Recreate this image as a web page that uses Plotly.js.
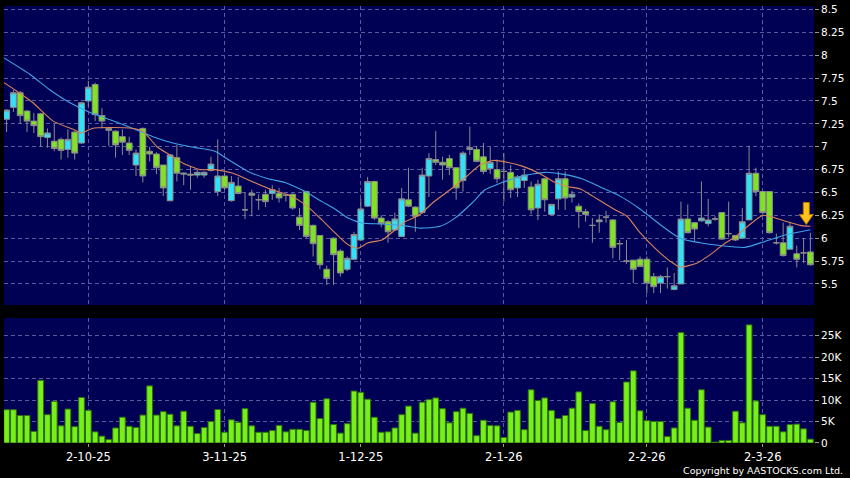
<!DOCTYPE html>
<html><head><meta charset="utf-8">
<script src="https://cdn.plot.ly/plotly-3.0.1.min.js"></script>
<style>html,body{margin:0;padding:0;background:#000;}#chart{width:850px;height:478px;}</style>
</head><body><div id="chart"></div>
<script>
const opens = [7.30,7.43,7.59,7.39,7.28,7.36,7.10,7.06,7.08,6.97, 7.16,7.04,7.50,7.68,7.34,7.20,7.17,7.11,7.04,6.80, 7.20,6.95,6.92,6.80,6.41,6.88,6.70,6.70,6.69,6.69, 6.74,6.51,6.68,6.41,6.57,6.31,6.49,6.42,6.48,6.49, 6.49,6.47,6.48,6.23,6.51,6.14,6.03,5.66,6.00,5.86, 5.66,5.77,5.98,6.35,6.62,6.22,6.18,6.09,6.02,6.42, 6.34,6.28,6.68,6.86,6.83,6.87,6.77,6.63,6.97,6.97, 6.89,6.76,6.75,6.73,6.72,6.55,6.63,6.56,6.33,6.65, 6.26,6.43,6.65,6.45,6.35,6.29,6.14,6.18,6.23,6.20, 5.94,5.75,5.76,5.77,5.77,5.58,5.51,5.58,5.44,5.50, 6.21,6.17,6.19,6.16,6.21,6.28,6.05,6.03,6.00,6.20, 6.71,6.51,6.51,5.95,5.95,5.88,5.83,5.84,5.85];
const highs = [7.41,7.62,7.61,7.40,7.37,7.37,7.20,7.25,7.10,7.19, 7.17,7.49,7.72,7.70,7.42,7.21,7.18,7.19,7.11,6.97, 7.21,7.00,6.94,6.80,6.92,7.02,6.72,6.78,6.75,6.73, 6.89,7.08,6.72,6.68,6.67,6.50,6.53,6.48,6.53,6.58, 6.55,6.48,6.49,6.33,6.52,6.15,6.03,5.70,6.01,5.88, 5.80,6.07,6.43,6.67,6.63,6.25,6.20,6.28,6.55,6.77, 6.35,6.77,6.93,7.17,6.89,6.91,6.78,6.95,7.22,7.01, 7.04,7.00,6.86,6.93,6.80,6.69,6.76,6.62,6.64,6.66, 6.37,6.73,6.73,6.52,6.38,6.32,6.22,6.26,6.30,6.21, 5.98,5.98,5.76,5.80,5.80,5.62,5.60,5.68,5.62,6.40, 6.37,6.17,6.62,6.43,6.24,6.28,6.40,6.03,6.33,7.01, 6.77,6.51,6.51,6.05,6.17,6.18,5.92,6.00,6.06];
const lows = [7.16,7.38,7.25,7.16,7.15,7.00,6.99,6.95,6.86,6.88, 6.86,7.03,7.44,7.28,7.20,7.01,6.88,6.91,6.91,6.68, 6.61,6.84,6.70,6.46,6.40,6.62,6.58,6.53,6.66,6.66, 6.73,6.46,6.53,6.40,6.48,6.21,6.24,6.31,6.34,6.42, 6.39,6.40,6.31,6.09,6.00,5.80,5.66,5.49,5.49,5.58, 5.64,5.76,5.97,6.34,6.20,6.12,5.95,6.08,6.01,6.34, 6.07,6.27,6.45,6.80,6.64,6.69,6.42,6.51,6.91,6.83, 6.70,6.70,6.60,6.40,6.44,6.45,6.55,6.26,6.20,6.29, 6.25,6.31,6.31,6.39,6.11,6.18,5.95,6.06,6.17,5.78, 5.76,5.72,5.51,5.69,5.40,5.40,5.40,5.45,5.43,5.50, 6.06,5.97,6.18,6.13,6.19,5.98,6.01,5.97,5.99,6.20, 6.46,6.26,6.05,5.93,5.80,5.88,5.68,5.73,5.70];
const closes = [7.40,7.59,7.34,7.28,7.23,7.11,7.15,6.98,6.96,7.08, 6.93,7.48,7.65,7.35,7.28,7.18,7.02,7.05,6.96,6.93, 6.68,6.92,6.77,6.55,6.91,6.71,6.71,6.69,6.72,6.72, 6.81,6.68,6.55,6.61,6.49,6.31,6.47,6.42,6.40,6.53, 6.44,6.47,6.33,6.14,6.02,5.94,5.71,5.56,5.82,5.62, 5.78,6.04,6.32,6.62,6.22,6.16,6.07,6.21,6.43,6.35, 6.24,6.69,6.87,6.83,6.80,6.77,6.55,6.93,6.99,6.84, 6.73,6.83,6.65,6.73,6.53,6.67,6.69,6.31,6.59,6.42, 6.37,6.65,6.44,6.48,6.29,6.26,6.14,6.20,6.23,5.90, 5.94,5.75,5.66,5.69,5.51,5.47,5.58,5.58,5.48,6.21, 6.06,6.10,6.22,6.20,6.21,5.99,6.05,5.98,6.18,6.71, 6.51,6.28,6.06,5.95,5.81,6.13,5.77,5.84,5.71];
const volumesK = [7.75,7.75,6.4,6.4,2.7,14.6,6.6,9.7,4.0,7.9, 3.8,10.6,7.6,2.6,1.6,0.8,3.5,6.0,3.9,3.6, 6.5,13.3,6.5,7.3,6.7,4.0,7.4,3.9,2.2,3.6, 5.0,7.8,2.5,5.4,4.8,8.0,4.0,2.5,2.5,2.9, 4.1,2.6,3.2,3.2, 2.9,9.5,5.7,10.3,4.3,2.3, 4.5,12.1,11.8,10.2,6.0,2.5,2.6,3.5,6.6,8.6, 2.3,9.5,10.1,10.5,8.0,4.7,7.3,8.1,6.9,1.7, 5.3,4.1,4.0,1.3,7.2,7.6,3.1,12.4,9.9,10.5, 7.6,5.7,6.4,8.1,11.9,2.9,9.2, 3.9,3.1,9.6, 4.8,14.2,16.8,7.5,5.2,5.0,5.0,1.5,3.5,25.7, 8.1,5.3,12.4,3.7,0.2,0.6,0.6,7.4,4.7,27.5, 9.8,6.6,3.9,3.9,2.6,4.3,4.4,3.3,0.9];
const maShortX = [-0.38,1.24,3.88,6.82,9.75,11.07,12.54,15.19,18.56,20.03,22.08,24.0,25.9,28.4,30.6,33.24,36.03,38.97,41.3,43.81,46.3,48.2,50.12,51.59,53.06,55.1,57.02,58.49,60.69,62.6,65.1,67.6,69.5,71.41,73.47,75.82,78.3,80.22,82.27,84.18,86.09,88.1,89.6,91.08,92.99,95.48,97.4,98.86,101.4,103.3,105.2,107.23,109.1,111.05,112.5,114.6,116.5,118];
const maShort = [7.70,7.62,7.48,7.28,7.19,7.15,7.20,7.21,7.20,7.17,7.00,6.91,6.82,6.75,6.75,6.71,6.62,6.53,6.475,6.37,6.20,6.06,5.93,5.89,5.95,5.98,6.09,6.18,6.26,6.39,6.53,6.68,6.80,6.85,6.83,6.785,6.705,6.62,6.566,6.54,6.457,6.366,6.30,6.24,6.06,5.87,5.75,5.685,5.73,5.82,5.93,6.03,6.15,6.25,6.23,6.18,6.14,6.13];
const maLongX = [-0.38,3.44,6.38,9.31,12.25,15.19,18.56,21.5,24.43,27.66,30.6,32.51,35.44,38.38,40.88,43.81,46.3,48.2,50.12,52.18,55.1,58.49,60.69,63.63,65.83,68.33,70.24,72.44,75.38,79.04,81.54,84.48,87.12,90.05,92.99,95.93,98.86,101.8,104.73,108.4,111.34,114.57,118];
const maLong = [7.97,7.79,7.62,7.48,7.375,7.295,7.20,7.11,7.04,6.99,6.95,6.86,6.73,6.65,6.61,6.51,6.40,6.32,6.22,6.166,6.155,6.135,6.11,6.13,6.22,6.385,6.53,6.60,6.675,6.72,6.70,6.65,6.56,6.46,6.32,6.15,6.0,5.95,5.92,5.90,5.965,6.04,6.093];
const tickIdx = [12,32,52,73,94,111];
const tickLabels = ['2-10-25','3-11-25','1-12-25','2-1-26','2-2-26','2-3-26'];
const priceTicks = [5.5,5.75,6,6.25,6.5,6.75,7,7.25,7.5,7.75,8,8.25,8.5];
const priceTickText = ['5.5','5.75','6','6.25','6.5','6.75','7','7.25','7.5','7.75','8','8.25','8.5'];
const volTicks = [0,5,10,15,20,25];
const volTickText = ['0','5K','10K','15K','20K','25K'];

const idx = opens.map((_, i) => i);
const gridC = '#5a5aa0';
const fontFam = 'DejaVu Sans, Verdana, sans-serif';

const traces = [
  {type:'candlestick', x:idx, open:opens, high:highs, low:lows, close:closes,
   xaxis:'x', yaxis:'y', whiskerwidth:0, hoverinfo:'skip',
   increasing:{line:{color:'#8c8c8c', width:1}, fillcolor:'#30e2f8'},
   decreasing:{line:{color:'#8c8c8c', width:1}, fillcolor:'#80e322'}},
  {type:'scatter', mode:'lines', x:maLongX, y:maLong, xaxis:'x', yaxis:'y',
   line:{color:'#3fa3e6', width:1.1, shape:'spline', smoothing:0.6}, hoverinfo:'skip'},
  {type:'scatter', mode:'lines', x:maShortX, y:maShort, xaxis:'x', yaxis:'y',
   line:{color:'#d9835a', width:1.1, shape:'spline', smoothing:0.6}, hoverinfo:'skip'},
  {type:'bar', x:idx, y:volumesK, xaxis:'x', yaxis:'y2', width:0.84,
   marker:{color:'#77f01a', line:{color:'#2e7010', width:1}}, hoverinfo:'skip'}
];

const layout = {
  width:850, height:478, paper_bgcolor:'#000000', plot_bgcolor:'#000055',
  margin:{l:4, r:36, t:6, b:35}, showlegend:false, hovermode:false,
  boxgap:0.15, boxgroupgap:0,
  xaxis:{range:[-0.38,118.53], tickmode:'array', tickvals:tickIdx, ticktext:tickLabels,
    ticks:'outside', ticklen:3, tickcolor:'#999999', tickfont:{color:'#ffffff', size:11.5, family:fontFam},
    showgrid:true, gridcolor:gridC, griddash:'4px,3px', gridwidth:1, zeroline:false, showline:false,
    anchor:'y2', rangeslider:{visible:false}, fixedrange:true},
  yaxis:{domain:[0.3158,1], range:[5.27,8.538], side:'right', anchor:'x', tickmode:'array',
    tickvals:priceTicks, ticktext:priceTickText, ticks:'outside', ticklen:4, tickcolor:'#999999',
    tickfont:{color:'#ffffff', size:10.5, family:fontFam}, showgrid:true, gridcolor:gridC,
    griddash:'4px,3px', zeroline:false, showline:false, fixedrange:true},
  yaxis2:{domain:[0,0.286], range:[0,29.1], side:'right', anchor:'x', tickmode:'array',
    tickvals:volTicks, ticktext:volTickText, ticks:'outside', ticklen:4, tickcolor:'#999999',
    tickfont:{color:'#ffffff', size:10.5, family:fontFam}, showgrid:true, gridcolor:gridC,
    griddash:'4px,3px', zeroline:false, showline:false, fixedrange:true},
  annotations:[{xref:'paper', yref:'paper', x:1.038, y:-0.062, xanchor:'right', yanchor:'middle',
    text:'Copyright by AASTOCKS.com Ltd.', showarrow:false, font:{color:'#ffffff', size:9.5, family:fontFam}}],
  shapes:[{type:'path', xref:'x', yref:'y', xsizemode:'pixel', ysizemode:'pixel', xanchor:117.4, yanchor:6.15,
    path:'M0,0 L-7,10 L-3,10 L-3,22 L3,22 L3,10 L7,10 Z', fillcolor:'#ffc21a', line:{color:'#b87a00', width:1}}]
};

Plotly.newPlot('chart', traces, layout, {staticPlot:true, displayModeBar:false});
</script>
</body></html>
